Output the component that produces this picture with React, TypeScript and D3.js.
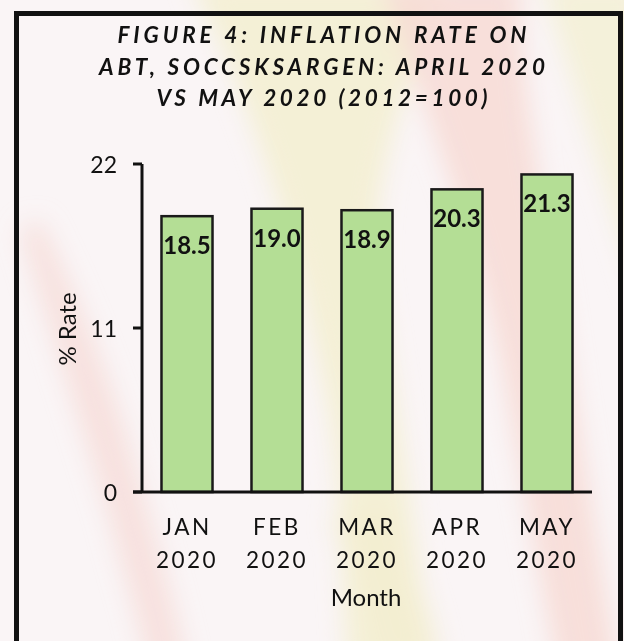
import React from 'react';
import * as d3 from 'd3';

// values
const months = ['JAN', 'FEB', 'MAR', 'APR', 'MAY'];
const years = ['2020', '2020', '2020', '2020', '2020'];
const rates = [18.5, 19.0, 18.9, 20.3, 21.3];
const yTicks = [0, 11, 22];
const titleLines = [
  'FIGURE 4: INFLATION RATE ON',
  'ABT, SOCCSKSARGEN: APRIL 2020',
  'VS MAY 2020 (2012=100)',
];

const W = 624;
const H = 641;
const font = 'Lato, "Open Sans", sans-serif';
const ink = '#111';

const App = () => {
  const x = d3.scaleBand<number>()
    .domain(d3.range(months.length))
    .range([142, 592])
    .paddingInner(0.433)
    .paddingOuter(0.2165);
  const y = d3.scaleLinear().domain([0, 22]).range([492, 164]);

  const titleWidths = [409, 446, 331];
  const titleY = [43, 75, 106];

  return (
    <svg width={W} height={H} style={{ position: 'absolute', left: 0, top: 0 }}>
      <defs>
        <filter id="soft" x="-30%" y="-30%" width="160%" height="160%">
          <feGaussianBlur stdDeviation="12" />
        </filter>
      </defs>
      {/* washed-out brush-stroke backdrop */}
      <rect width={W} height={H} fill="#faf5f6" />
      <g filter="url(#soft)">
        <path d="M190,-20 C260,120 300,260 330,420 C345,520 340,600 350,680 L430,680 C420,560 400,420 380,300 C360,180 420,60 440,-20 Z" fill="#f3efd4" opacity="0.95" />
        <path d="M380,-20 C420,100 470,220 500,360 C520,470 540,580 560,680 L620,680 C600,560 580,430 560,300 C540,180 520,80 520,-20 Z" fill="#f7dad5" opacity="0.85" />
        <path d="M540,-20 L640,-20 L640,300 C610,200 580,100 540,-20 Z" fill="#f3f0d8" opacity="0.95" />
        <path d="M20,230 C50,330 80,420 110,520 C125,580 140,620 150,680 L190,680 C175,600 150,520 125,430 C100,350 70,280 40,220 Z" fill="#f6dcd8" opacity="0.8" />
        <path d="M330,520 C350,560 370,600 380,660 L440,660 C430,600 410,560 390,510 Z" fill="#f2edd0" opacity="0.85" />
      </g>

      {/* figure frame */}
      <rect x={16.5} y={13.5} width={604} height={700} fill="none" stroke={ink} strokeWidth={5} />

      {/* title */}
      {titleLines.map((t, i) => (
        <text
          key={i}
          x={322}
          y={titleY[i]}
          textAnchor="middle"
          fontFamily={font}
          fontSize={22.5}
          fontWeight="bold"
          fontStyle="italic"
          fill={ink}
          textLength={titleWidths[i]}
          lengthAdjust="spacing"
        >
          {t}
        </text>
      ))}

      {/* bars */}
      {rates.map((v, i) => (
        <rect
          key={i}
          x={x(i)}
          y={y(v)}
          width={x.bandwidth()}
          height={y(0) - y(v)}
          fill="#b4de95"
          stroke="#1a1a1a"
          strokeWidth={2.5}
        />
      ))}

      {/* value labels */}
      {rates.map((v, i) => (
        <text
          key={i}
          x={(x(i) ?? 0) + x.bandwidth() / 2}
          y={y(v) + 38}
          textAnchor="middle"
          fontFamily={font}
          fontSize={24}
          fontWeight="bold"
          fill={ink}
        >
          {v.toFixed(1)}
        </text>
      ))}

      {/* y axis */}
      <line x1={142} x2={142} y1={y(22)} y2={y(0)} stroke={ink} strokeWidth={3} />
      {yTicks.map((t) => (
        <g key={t}>
          <line x1={133} x2={142} y1={y(t)} y2={y(t)} stroke={ink} strokeWidth={3} />
          <text x={117} y={y(t) + 8.5} textAnchor="end" fontFamily={font} fontSize={23} fill={ink}>
            {t}
          </text>
        </g>
      ))}
      <text
        transform="translate(76,329) rotate(-90)"
        textAnchor="middle"
        fontFamily={font}
        fontSize={24}
        fill={ink}
      >
        % Rate
      </text>

      {/* x axis */}
      <line x1={133} x2={592} y1={y(0)} y2={y(0)} stroke={ink} strokeWidth={3} />
      {months.map((m, i) => {
        const cx = (x(i) ?? 0) + x.bandwidth() / 2;
        return (
          <g key={m}>
            <text x={cx} y={535} textAnchor="middle" fontFamily={font} fontSize={22.5} letterSpacing={2.5} fill={ink}>
              {m}
            </text>
            <text x={cx} y={568} textAnchor="middle" fontFamily={font} fontSize={22.5} letterSpacing={2.5} fill={ink}>
              {years[i]}
            </text>
          </g>
        );
      })}
      <text x={366} y={606} textAnchor="middle" fontFamily={font} fontSize={24} fill={ink}>
        Month
      </text>
    </svg>
  );
};

export default App;
